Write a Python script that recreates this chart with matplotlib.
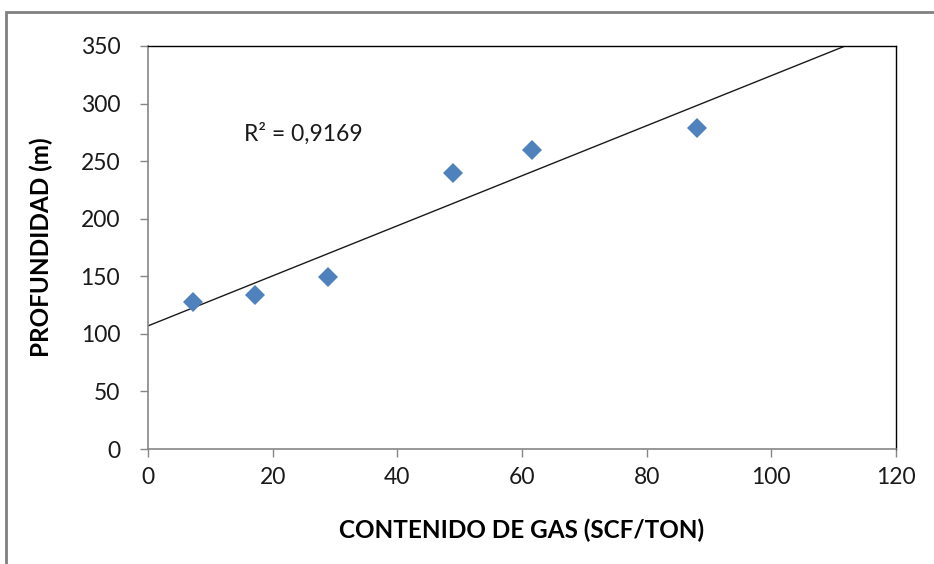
import numpy as np
import matplotlib
matplotlib.use("Agg")
import matplotlib.pyplot as plt
from matplotlib.patches import Rectangle

gas = [7.2, 17.2, 28.9, 48.9, 61.6, 88.1]
profundidad = [127.7, 133.7, 149.4, 239.7, 259.7, 278.8]
xticks = [0, 20, 40, 60, 80, 100, 120]
yticks = [0, 50, 100, 150, 200, 250, 300, 350]
r2_label = 'R² = 0,9169'

plt.rcParams['font.family'] = ['Lato', 'DejaVu Sans']

fig = plt.figure(figsize=(9.34, 5.64), dpi=100)
ax = fig.add_axes([148/934, 1-449/564, (896-148)/934, (449-46)/564])

x = np.array(gas); y = np.array(profundidad)
m, b = np.polyfit(x, y, 1)
xl = np.linspace(0, 120, 200)
ax.plot(xl, m*xl + b, color='#1a1a1a', lw=1.0, zorder=2)
ax.plot(x, y, 'D', color='#4F81BD', markersize=10, markeredgewidth=0, zorder=3)

ax.set_xlim(0, 120)
ax.set_ylim(0, 350)
ax.set_xticks(xticks)
ax.set_yticks(yticks)
ax.tick_params(direction='out', length=6, width=1, color='#868686',
               labelsize=16.5, labelcolor='#1a1a1a')
ax.tick_params(axis='y', pad=14)
ax.tick_params(axis='x', pad=7)
for s in ['top', 'right']:
    ax.spines[s].set_color('black')
    ax.spines[s].set_linewidth(1.0)
for s in ['left', 'bottom']:
    ax.spines[s].set_color('#868686')
    ax.spines[s].set_linewidth(1.2)

ax.set_xlabel('CONTENIDO DE GAS (SCF/TON)', fontsize=17.5, fontweight='bold', labelpad=22)
ax.set_ylabel('PROFUNDIDAD (m)', fontsize=17.5, fontweight='bold', labelpad=20)

ax.text(15.4, 274, r2_label, fontsize=16.5, color='#1a1a1a', va='center')

fig.patches.append(Rectangle((6/934, -0.2), 1.2, 1-12/564+0.2, transform=fig.transFigure,
                             fill=False, edgecolor='#808080', lw=2, figure=fig))

fig.savefig('out.png', dpi=100)
